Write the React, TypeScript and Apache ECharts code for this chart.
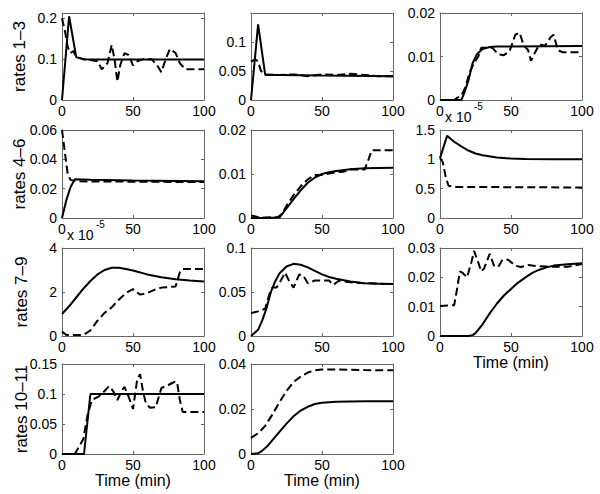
import React, { useEffect, useRef } from "react";
import * as echarts from "echarts";

// ---- data (time in min, rate values) ----
const rowLabels = ["rates 1–3", "rates 4–6", "rates 7–9", "rates 10–11"];
const xLabel = "Time (min)";
const expLabel = "x 10";
const expPower = "-5";

const r1Solid = [[0, 0], [5, 0.205], [10, 0.105], [15, 0.1], [20, 0.099], [40, 0.099], [100, 0.099]];
const r1Dash = [[0, 0.2], [2, 0.17], [4, 0.13], [6, 0.115], [8, 0.12], [10, 0.105], [15, 0.1], [20, 0.098], [25, 0.095], [28, 0.075], [32, 0.09], [35, 0.135], [37, 0.1], [39, 0.045], [41, 0.085], [44, 0.115], [47, 0.11], [50, 0.085], [53, 0.095], [57, 0.1], [63, 0.1], [67, 0.085], [70, 0.068], [73, 0.1], [76, 0.125], [80, 0.115], [83, 0.09], [87, 0.075], [100, 0.075]];

const r2Solid = [[0, 0], [5, 0.13], [10, 0.043], [20, 0.043], [50, 0.042], [100, 0.041]];
const r2Dash = [[0, 0.066], [3, 0.07], [5, 0.066], [7, 0.05], [10, 0.044], [20, 0.043], [30, 0.044], [40, 0.041], [50, 0.044], [60, 0.043], [70, 0.045], [80, 0.043], [90, 0.041], [100, 0.041]];

const r3Solid = [[0, 0], [15, 0], [17, 0.0015], [20, 0.0045], [23, 0.0085], [26, 0.0105], [30, 0.0117], [35, 0.0122], [40, 0.0123], [100, 0.0124]];
const r3Dash = [[0, 0], [10, 0], [12, 0.0005], [15, 0.001], [18, 0.003], [21, 0.0065], [24, 0.0085], [27, 0.01], [29, 0.012], [33, 0.012], [37, 0.012], [41, 0.0105], [45, 0.0103], [49, 0.0112], [53, 0.015], [56, 0.0155], [59, 0.0125], [62, 0.0115], [64, 0.009], [67, 0.011], [70, 0.0128], [74, 0.0125], [78, 0.0145], [80, 0.015], [83, 0.0115], [86, 0.011], [100, 0.011]];

const r4Solid = [[0, 0], [3, 0.012], [6, 0.021], [9, 0.0265], [20, 0.026], [50, 0.0255], [100, 0.025]];
const r4Dash = [[0, 0.06], [2, 0.045], [4, 0.03], [6, 0.026], [10, 0.025], [100, 0.0245]];

const r5Solid = [[0, 0], [10, 0], [20, 0.0001], [25, 0.0022], [30, 0.0043], [35, 0.0063], [40, 0.008], [45, 0.0092], [50, 0.01], [55, 0.0104], [60, 0.0107], [70, 0.0111], [80, 0.0113], [100, 0.0114]];
const r5Dash = [[0, 0.0006], [5, 0.0002], [10, 0.0001], [19, 0.0002], [22, 0.001], [25, 0.0028], [30, 0.0052], [35, 0.0072], [40, 0.0088], [45, 0.0098], [50, 0.0098], [55, 0.0101], [60, 0.0104], [65, 0.0105], [70, 0.011], [80, 0.011], [83, 0.0135], [85, 0.0154], [100, 0.0154]];

// panel 6 values in units of 1e-5
const r6Solid = [[0, 1.02], [5, 1.4], [10, 1.3], [15, 1.22], [20, 1.15], [25, 1.1], [30, 1.07], [40, 1.03], [50, 1.015], [60, 1.005], [80, 1.0], [100, 1.0]];
const r6Dash = [[0, 1.02], [2, 0.95], [4, 0.7], [6, 0.55], [10, 0.53], [100, 0.52]];

// panel 7 values in units of 1e-5
const r7Solid = [[0, 1.0], [5, 1.35], [10, 1.75], [15, 2.15], [20, 2.5], [25, 2.8], [30, 3.0], [35, 3.1], [40, 3.1], [45, 3.05], [50, 2.98], [60, 2.8], [70, 2.67], [80, 2.58], [90, 2.52], [100, 2.48]];
const r7Dash = [[0, 0.2], [3, 0.05], [15, 0.05], [20, 0.25], [25, 0.7], [30, 1.05], [35, 1.3], [40, 1.65], [45, 1.95], [50, 2.13], [55, 1.88], [60, 1.95], [65, 2.1], [70, 2.2], [80, 2.25], [83, 2.9], [85, 3.05], [100, 3.05]];

const r8Solid = [[0, 0], [5, 0.007], [8, 0.018], [11, 0.032], [14, 0.05], [17, 0.062], [20, 0.071], [25, 0.079], [30, 0.082], [35, 0.081], [40, 0.078], [45, 0.074], [50, 0.07], [55, 0.067], [60, 0.065], [70, 0.062], [80, 0.06], [90, 0.0595], [100, 0.059]];
const r8Dash = [[0, 0.026], [5, 0.028], [10, 0.031], [13, 0.048], [15, 0.055], [18, 0.055], [21, 0.063], [24, 0.072], [27, 0.062], [30, 0.055], [34, 0.07], [37, 0.068], [40, 0.06], [45, 0.063], [55, 0.063], [58, 0.058], [62, 0.063], [70, 0.061], [80, 0.06], [100, 0.059]];

const r9Solid = [[0, 0], [20, 0], [23, 0.0003], [25, 0.001], [30, 0.004], [35, 0.0077], [40, 0.011], [45, 0.0138], [50, 0.016], [55, 0.0182], [60, 0.0199], [65, 0.0215], [70, 0.0226], [75, 0.0234], [80, 0.024], [90, 0.0245], [100, 0.0248]];
const r9Dash = [[0, 0.0102], [8, 0.0105], [10, 0.0105], [12, 0.016], [14, 0.022], [16, 0.0215], [19, 0.02], [22, 0.025], [24, 0.029], [27, 0.025], [29, 0.022], [31, 0.023], [35, 0.028], [38, 0.024], [41, 0.0235], [44, 0.026], [48, 0.026], [53, 0.024], [57, 0.0235], [62, 0.0242], [68, 0.0238], [80, 0.0236], [90, 0.0236], [100, 0.0245]];

const r10Solid = [[0, 0], [15.5, 0], [20, 0.1], [100, 0.1]];
const r10Dash = [[0, 0], [9, 0], [12, 0.012], [15, 0.025], [18, 0.065], [21, 0.09], [26, 0.096], [30, 0.105], [33, 0.113], [36, 0.105], [39, 0.09], [42, 0.105], [44, 0.112], [47, 0.095], [50, 0.075], [53, 0.125], [55, 0.133], [57, 0.105], [59, 0.085], [62, 0.077], [66, 0.078], [70, 0.11], [75, 0.115], [79, 0.12], [81, 0.12], [83, 0.09], [85, 0.07], [100, 0.07]];

const r11Solid = [[0, 0], [5, 0.0003], [8, 0.0015], [12, 0.0038], [16, 0.0068], [20, 0.0098], [25, 0.0135], [30, 0.0168], [35, 0.0193], [40, 0.021], [45, 0.0222], [50, 0.0228], [60, 0.0232], [80, 0.0234], [100, 0.0234]];
const r11Dash = [[0, 0.0072], [5, 0.0092], [10, 0.0125], [15, 0.0175], [20, 0.023], [25, 0.028], [30, 0.032], [35, 0.0345], [40, 0.0362], [45, 0.0372], [50, 0.0376], [60, 0.0376], [80, 0.0373], [100, 0.0372]];

const solids = [r1Solid, r2Solid, r3Solid, r4Solid, r5Solid, r6Solid, r7Solid, r8Solid, r9Solid, r10Solid, r11Solid];
const dashes = [r1Dash, r2Dash, r3Dash, r4Dash, r5Dash, r6Dash, r7Dash, r8Dash, r9Dash, r10Dash, r11Dash];
const yMaxes = [0.213, 0.1495, 0.02, 0.06, 0.02, 1.5, 4, 0.1, 0.03, 0.15, 0.04];
const yIntervals = [0.1, 0.05, 0.01, 0.02, 0.01, 0.5, 2, 0.05, 0.01, 0.05, 0.02];
const xMax = 100;
const xInterval = 50;

const FONT = "'Liberation Sans', Arial, Helvetica, sans-serif";

export default function App() {
  const ref = useRef<HTMLDivElement>(null);
  useEffect(() => {
    if (!ref.current) return;
    const chart = echarts.init(ref.current, undefined, { renderer: "svg" });
    const colLeft = [62, 251, 440];
    const plotW = 142;
    const rowTop = [13, 130, 248, 364];
    const rowH = [87, 88, 88, 90];
    const axisColor = "#666";
    const grids: any[] = [];
    const xAxes: any[] = [];
    const yAxes: any[] = [];
    const series: any[] = [];
    const graphics: any[] = [];
    const fmt = (iv: number) => (v: number) => {
      const k = v / iv;
      if (Math.abs(k - Math.round(k)) > 1e-6) return "";
      return String(parseFloat(v.toFixed(6)));
    };
    const withName = [8, 9, 10];
    solids.forEach((s, i) => {
      const row = Math.floor(i / 3);
      const col = i % 3;
      grids.push({ left: colLeft[col], top: rowTop[row], width: plotW, height: rowH[row], show: false });
      const common = {
        type: "value",
        gridIndex: i,
        splitLine: { show: false },
        axisLine: { show: true, onZero: false, lineStyle: { color: axisColor, width: 1 } },
        axisTick: { show: true, inside: true, length: 3, lineStyle: { color: axisColor, width: 1 } },
      };
      xAxes.push({
        ...common,
        position: "bottom",
        min: 0,
        max: xMax,
        interval: xInterval,
        axisLabel: { color: "#000", fontSize: 14, fontFamily: FONT, margin: 4, formatter: fmt(xInterval) },
        name: withName.includes(i) ? xLabel : "",
        nameLocation: "middle",
        nameGap: row === 3 ? 15 : 18,
        nameTextStyle: { color: "#000", fontSize: 16, fontFamily: FONT, verticalAlign: "top" },
      });
      xAxes.push({ ...common, position: "top", min: 0, max: xMax, interval: xInterval, axisLabel: { show: false } });
      yAxes.push({
        ...common,
        position: "left",
        min: 0,
        max: yMaxes[i],
        interval: yIntervals[i],
        axisLabel: { color: "#000", fontSize: 14, fontFamily: FONT, margin: 5, formatter: fmt(yIntervals[i]) },
      });
      yAxes.push({ ...common, position: "right", min: 0, max: yMaxes[i], interval: yIntervals[i], axisLabel: { show: false } });
      series.push({
        type: "line",
        xAxisIndex: 2 * i,
        yAxisIndex: 2 * i,
        data: dashes[i],
        symbol: "none",
        lineStyle: { color: "#000", width: 2, type: [8, 4] },
        z: 2,
      });
      series.push({
        type: "line",
        xAxisIndex: 2 * i,
        yAxisIndex: 2 * i,
        data: s,
        symbol: "none",
        lineStyle: { color: "#000", width: 2, type: "solid" },
        z: 3,
      });
      if (i === 5 || i === 6) {
        graphics.push({
          type: "text",
          left: colLeft[col] + 5,
          top: rowTop[row] - 20,
          style: { text: expLabel, fill: "#000", font: `14px ${FONT}` },
        });
        graphics.push({
          type: "text",
          left: colLeft[col] + 34,
          top: rowTop[row] - 29,
          style: { text: expPower, fill: "#000", font: `10px ${FONT}` },
        });
      }
    });
    rowLabels.forEach((t, r) => {
      graphics.push({
        type: "text",
        x: r < 2 ? 19 : 21,
        y: rowTop[r] + rowH[r] / 2,
        rotation: Math.PI / 2,
        style: { text: t, fill: "#000", font: `17px ${FONT}`, align: "center", verticalAlign: "middle" },
      });
    });
    chart.setOption({
      animation: false,
      backgroundColor: "#fff",
      grid: grids,
      xAxis: xAxes,
      yAxis: yAxes,
      series,
      graphic: graphics,
    });
    return () => chart.dispose();
  }, []);
  return <div ref={ref} style={{ position: "fixed", left: 0, top: 0, width: 600, height: 494, background: "#fff" }} />;
}
